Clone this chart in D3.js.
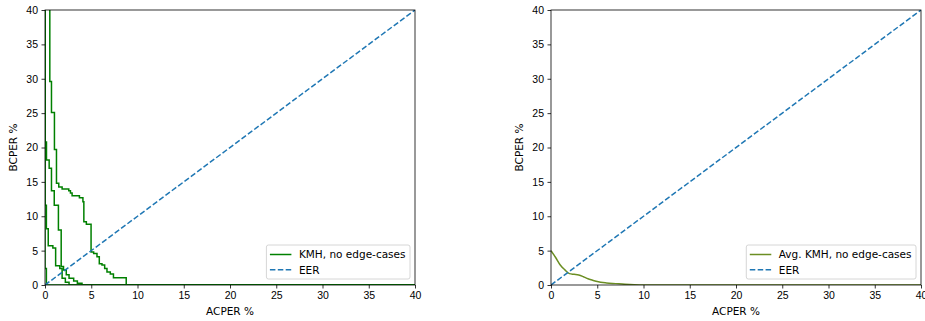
<!DOCTYPE html>
<html>
<head>
<meta charset="utf-8">
<script src="https://cdn.jsdelivr.net/npm/d3@7"></script>
<style>
  body { margin: 0; background: #fff; }
  svg { font-family: "DejaVu Sans", sans-serif; font-size: 10.5px; }
  .axis path, .axis line { stroke: #000; stroke-width: 0.8; }
  .axis text { fill: #000; font-size: 10.5px; }
  .label { fill: #000; font-size: 10.5px; }
</style>
</head>
<body>
<svg id="svg" width="925" height="321"></svg>
<script>
// tick labels
var ticksX = [0, 5, 10, 15, 20, 25, 30, 35, 40];
var ticksY = [0, 5, 10, 15, 20, 25, 30, 35, 40];

// left panel: per-subject step curves (ACPER %, BCPER % after that point)
var kmhA_x = [0, 0.52, 0.70, 1.02, 1.24, 1.49, 1.85, 2.57, 2.75, 2.93, 3.72, 4.10, 4.20, 4.47, 4.98, 5.26, 5.62, 5.87, 6.16, 6.45, 6.70, 7.06, 7.40, 8.78, 40];
var kmhA_y = [100, 29.6, 25.1, 19.7, 14.8, 14.25, 13.95, 13.7, 13.4, 13.0, 12.7, 12.1, 9.2, 8.85, 4.8, 4.6, 4.1, 3.1, 2.9, 2.4, 1.9, 1.6, 1.06, 0, 0];
var kmhB_x = [0, 0, 0.16, 0.45, 0.70, 1.00, 1.45, 1.75, 2.00, 2.30, 2.60, 3.10, 3.50, 4.00, 40];
var kmhB_y = [100, 20.8, 18.2, 17.0, 13.7, 11.6, 8.0, 2.7, 2.2, 1.5, 1.0, 0.6, 0.25, 0, 0];
var kmhC_x = [0, 0, 0.15, 0.35, 0.85, 1.15, 1.60, 1.85, 2.20, 2.60, 40];
var kmhC_y = [100, 11.6, 8.2, 5.7, 5.4, 2.8, 2.4, 1.0, 0.4, 0, 0];
var kmhD_x = [0, 0, 0.15, 40];
var kmhD_y = [100, 2.4, 0, 0];

// right panel: averaged curve
var avg_x = [0, 0.5, 1, 1.5, 2, 2.5, 3, 3.5, 4, 4.5, 5, 6, 7, 8, 9, 10, 40];
var avg_y = [5.0, 4.0, 2.9, 2.2, 1.65, 1.55, 1.45, 1.2, 0.9, 0.7, 0.5, 0.3, 0.2, 0.1, 0.03, 0, 0];

// equal error rate diagonal
var eer_x = [0, 40];
var eer_y = [0, 40];

var zip = function(xs, ys) {
  return xs.map(function(x, i) { return [x, ys[i]]; });
};

var params = {
  "panels": [
    {"x": 45, "label": "KMH, no edge-cases", "color": "#008000", "id": "left"},
    {"x": 551, "label": "Avg. KMH, no edge-cases", "color": "#6b8e23", "id": "right"}
  ],
  "plot": {"y": 10, "width": 370, "height": 275}
};

var translate = function(x, y) { return "translate(" + x + "," + y + ")"; };

var svg = d3.select("#svg");

var scale = {
  "x": d3.scaleLinear().domain([0, 40]).range([0, params.plot.width]),
  "y": d3.scaleLinear().domain([0, 40]).range([params.plot.height, 0])
};

var line = d3.line()
  .x(function(d) { return scale.x(d[0]); })
  .y(function(d) { return scale.y(d[1]); });

var stepLine = d3.line()
  .curve(d3.curveStepAfter)
  .x(function(d) { return scale.x(d[0]); })
  .y(function(d) { return scale.y(d[1]); });

var smoothLine = d3.line()
  .curve(d3.curveMonotoneX)
  .x(function(d) { return scale.x(d[0]); })
  .y(function(d) { return scale.y(d[1]); });

createPanel = function(p, curves, pathGen) {
  let g = svg.append("g").attr("transform", translate(p.x, params.plot.y));

  g.append("clipPath").attr("id", "clip-" + p.id)
    .append("rect")
    .attr("width", params.plot.width)
    .attr("height", params.plot.height);

  let plot = g.append("g").attr("clip-path", "url(#clip-" + p.id + ")");

  curves.forEach(function(c) {
    plot.append("path")
      .attr("d", pathGen(c))
      .attr("fill", "none")
      .attr("stroke", p.color)
      .attr("stroke-width", 1.5);
  });

  plot.append("path")
    .attr("d", line(zip(eer_x, eer_y)))
    .attr("fill", "none")
    .attr("stroke", "#1f77b4")
    .attr("stroke-width", 1.5)
    .attr("stroke-dasharray", "5.5,2.4");

  let gx = g.append("g").attr("class", "axis")
    .attr("transform", translate(0, params.plot.height))
    .call(d3.axisBottom(scale.x).tickValues(ticksX).tickSize(3.5).tickPadding(3.5));
  gx.select(".domain").remove();

  let gy = g.append("g").attr("class", "axis")
    .call(d3.axisLeft(scale.y).tickValues(ticksY).tickSize(3.5).tickPadding(3.5));
  gy.select(".domain").remove();

  // frame
  g.append("rect")
    .attr("width", params.plot.width)
    .attr("height", params.plot.height)
    .attr("fill", "none")
    .attr("stroke", "#000")
    .attr("stroke-width", 0.8);

  g.append("text").attr("class", "label")
    .attr("text-anchor", "middle")
    .attr("x", params.plot.width / 2)
    .attr("y", params.plot.height + 29.5)
    .text("ACPER %");

  g.append("text").attr("class", "label")
    .attr("text-anchor", "middle")
    .attr("transform", translate(-28, params.plot.height / 2) + " rotate(-90)")
    .text("BCPER %");

  // legend, lower right
  let leg = g.append("g");
  let box = leg.append("rect")
    .attr("rx", 2)
    .attr("fill", "#fff")
    .attr("fill-opacity", 0.8)
    .attr("stroke", "#ccc")
    .attr("stroke-width", 0.8);

  let items = [
    {"label": p.label, "color": p.color, "dash": null},
    {"label": "EER", "color": "#1f77b4", "dash": "5.5,2.4"}
  ];
  let maxW = 0;
  items.forEach(function(it, i) {
    let yy = 9.5 + i * 15.3;
    leg.append("line")
      .attr("x1", 3.5).attr("x2", 25)
      .attr("y1", yy).attr("y2", yy)
      .attr("stroke", it.color)
      .attr("stroke-width", 1.5)
      .attr("stroke-dasharray", it.dash);
    let t = leg.append("text").attr("class", "label")
      .attr("x", 32.5).attr("y", yy + 3.8)
      .text(it.label);
    maxW = Math.max(maxW, t.node().getComputedTextLength());
  });
  let bw = 32.5 + maxW + 4.5;
  let bh = 34;
  box.attr("width", bw).attr("height", bh);
  leg.attr("transform", translate(params.plot.width - 5 - bw, params.plot.height - 6 - bh));
};

createPanel(params.panels[0],
  [zip(kmhA_x, kmhA_y), zip(kmhB_x, kmhB_y), zip(kmhC_x, kmhC_y), zip(kmhD_x, kmhD_y)],
  stepLine);
createPanel(params.panels[1], [zip(avg_x, avg_y)], smoothLine);
</script>
</body>
</html>
